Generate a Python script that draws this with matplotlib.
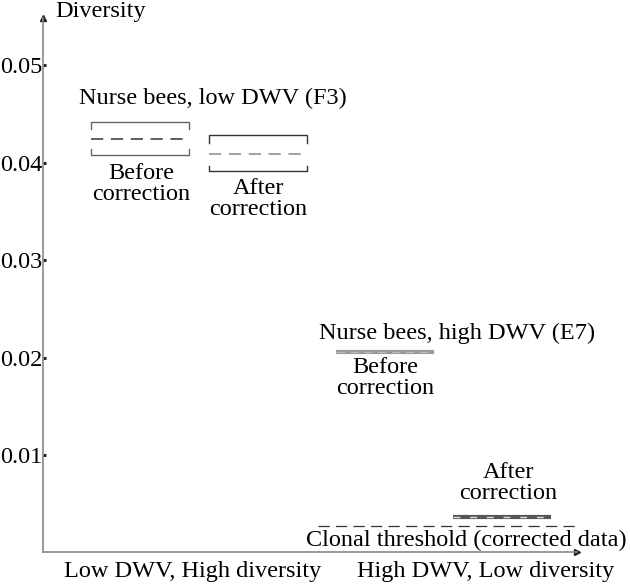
import matplotlib
matplotlib.use("Agg")
import matplotlib.pyplot as plt

plt.rcParams['font.family'] = ['Liberation Serif', 'DejaVu Serif']

# ---- data ----
box_labels = ["Before\ncorrection", "After\ncorrection", "Before\ncorrection", "After\ncorrection"]
box_top = [0.0442, 0.0428, 0.02057, 0.0036]
box_median = [0.0424, 0.0409, 0.02057, 0.0036]
box_bottom = [0.04075, 0.0391, 0.02057, 0.0036]
group_titles = ["Nurse bees, low DWV (F3)", "Nurse bees, high DWV (E7)"]
clonal_threshold = 0.00276
yticks = [0.01, 0.02, 0.03, 0.04, 0.05]
ytick_labels = ["0.01", "0.02", "0.03", "0.04", "0.05"]
x_category_labels = ["Low DWV, High diversity", "High DWV, Low diversity"]
y_label = "Diversity"

# ---- layout ----
positions = [1.816, 4.026, 6.404, 8.596]
width = 1.82
cap = 0.0008
fig = plt.figure(figsize=(6.3, 5.85), dpi=100)
ax = fig.add_axes([43/630, 1-552.4/585, 534/630, (552.4-18)/585])
ax.set_xlim(0, 10)
ax.set_ylim(0, 0.05484)

for s in ['top', 'right']:
    ax.spines[s].set_visible(False)
for s in ['left', 'bottom']:
    ax.spines[s].set_color('#888888')
    ax.spines[s].set_linewidth(1.2)

# arrows
ax.plot(0, 1, marker='^', color='#222222', markersize=5, transform=ax.transAxes, clip_on=False)
ax.plot(1, 0, marker='>', color='#222222', markersize=5, transform=ax.transAxes, clip_on=False)

fs = 17.5
ax.set_xticks([])
ax.set_yticks(yticks)
ax.set_yticklabels(ytick_labels)
ax.tick_params(axis='y', direction='in', length=2.5, width=2.2, color='#222222', pad=0.5, labelsize=fs)

edge_colors = ['#666666', '#333333']
med_colors = ['#333333', '#888888']
# full boxes for low DWV group
for i in range(2):
    x0 = positions[i] - width/2
    x1 = positions[i] + width/2
    c = edge_colors[i]
    ax.plot([x0, x0, x1, x1], [box_top[i]-cap, box_top[i], box_top[i], box_top[i]-cap], color=c, lw=1.0)
    ax.plot([x0, x0, x1, x1], [box_bottom[i]+cap*0.75, box_bottom[i], box_bottom[i], box_bottom[i]+cap*0.75], color=c, lw=1.0)
    ax.plot([x0, x1], [box_median[i]]*2, color=med_colors[i], lw=1.1, dashes=(8, 5))

# collapsed boxes for high DWV group
x0, x1 = positions[2]-width/2, positions[2]+width/2
ax.plot([x0, x1], [box_median[2]]*2, color='#999999', lw=3.0, solid_capstyle='butt')
ax.plot([x0, x1], [box_median[2]]*2, color='#bbbbbb', lw=1.0, dashes=(6, 4))
x0, x1 = positions[3]-width/2, positions[3]+width/2
ax.plot([x0, x1], [box_median[3]]*2, color='#555555', lw=3.0, solid_capstyle='butt')
ax.plot([x0, x1], [box_median[3]]*2, color='#dddddd', lw=1.0, dashes=(5, 7))

# clonal threshold
ax.plot([5.15, 10.0], [clonal_threshold]*2, color='#333333', lw=0.9, dashes=(9, 5), clip_on=False)

def px(xp, yp):
    return (xp/630, 1-yp/585)

fig.text(*px(55, 12), y_label, fontsize=fs, ha='left', va='center')
fig.text(*px(213, 98), group_titles[0], fontsize=fs, ha='center', va='center')
fig.text(*px(457, 333), group_titles[1], fontsize=fs, ha='center', va='center')
label_centers = [(141, 184), (258, 199), (385, 378), (508, 483)]
for (xc, yc), t in zip(label_centers, box_labels):
    fig.text(*px(xc, yc), t, fontsize=fs, ha='center', va='center', linespacing=1.05)
fig.text(*px(466, 540), "Clonal threshold (corrected data)", fontsize=fs, ha='center', va='center')
fig.text(*px(193, 572), x_category_labels[0], fontsize=fs, ha='center', va='center')
fig.text(*px(486, 572), x_category_labels[1], fontsize=fs, ha='center', va='center')

fig.savefig("out.png", dpi=100)
